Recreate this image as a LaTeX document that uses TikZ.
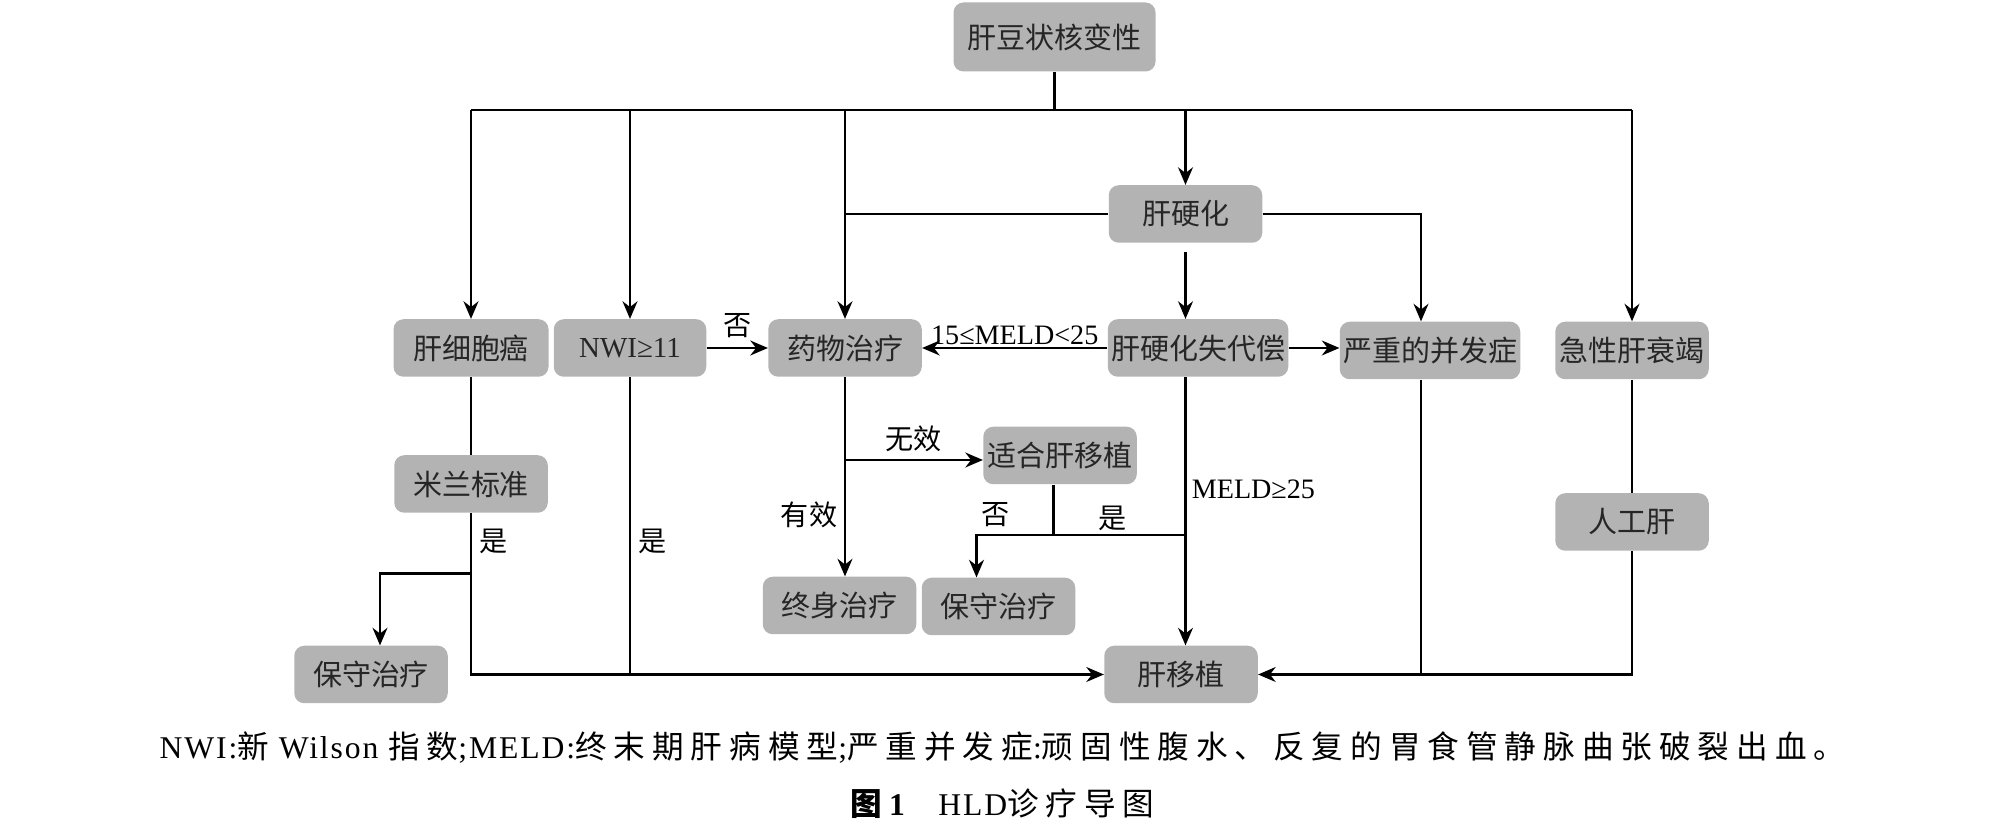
\documentclass[tikz,border=0pt]{standalone}
\usepackage{fontspec}
\setmainfont{Liberation Serif}
\newfontfamily\cjk{Noto Sans CJK SC}
\newfontfamily\capcjk[LetterSpace=22]{Noto Sans CJK SC}
\newfontfamily\caprm[LetterSpace=6]{Liberation Serif}
\usetikzlibrary{arrows.meta}
\definecolor{boxgray}{RGB}{179,179,179}

\begin{document}
\begin{tikzpicture}[
    box/.style={rectangle, rounded corners=0.2cm, fill=boxgray, text=black!85,
      minimum width=3.07cm, minimum height=1.15cm, inner sep=0pt,
      font=\fontsize{16.5}{18}\selectfont\cjk},
    line/.style={line width=1.2pt},
    arr/.style={line width=1.2pt, -{Stealth[length=10pt,width=8.5pt]}},
    lbl/.style={inner sep=1pt, font=\fontsize{16}{18}\selectfont\cjk},
    lat/.style={inner sep=1pt, font=\fontsize{16}{18}\selectfont\rmfamily}
  ]
    \useasboundingbox (0,0) rectangle (40.14,16.58);

    \node[box, minimum width=4.04cm, minimum height=1.38cm] (hld) at (21.09,15.84) {肝豆状核变性};
    \node[box] (lc) at (23.71,12.30) {肝硬化};

    \node[box, minimum width=3.10cm] (hcc) at (9.42,9.62) {肝细胞癌};
    \node[box, minimum width=3.05cm, font=\fontsize{16.5}{18}\selectfont\rmfamily] (nwi) at (12.60,9.62) {NWI≥11};
    \node[box] (drug) at (16.90,9.62) {药物治疗};
    \node[box, minimum width=3.61cm] (dlc) at (23.96,9.62) {肝硬化失代偿};
    \node[box, minimum width=3.61cm] (comp) at (28.60,9.57) {严重的并发症};
    \node[box] (alf) at (32.64,9.57) {急性肝衰竭};

    \node[box] (milan) at (9.42,6.90) {米兰标准};
    \node[box] (fit) at (21.20,7.47) {适合肝移植};
    \node[box] (art) at (32.64,6.14) {人工肝};
    \node[box] (life) at (16.79,4.47) {终身治疗};
    \node[box] (cons1) at (19.97,4.45) {保守治疗};
    \node[box] (cons2) at (7.42,3.09) {保守治疗};
    \node[box] (lt) at (23.62,3.09) {肝移植};

    \coordinate (trunk) at (21.09,14.38);
    \coordinate (tl) at (9.42,14.38);
    \coordinate (tr) at (32.64,14.38);
    \coordinate (cr) at (28.42,12.30);
    \coordinate (br) at (16.90,7.38);
    \coordinate (fj) at (21.07,5.88);
    \coordinate (fl) at (19.53,5.88);
    \coordinate (ml) at (9.42,5.11);
    \coordinate (mb) at (7.60,5.11);
    \coordinate (bl) at (9.42,3.09);
    \coordinate (bright) at (32.64,3.09);

    \draw[line] (hld) -- (trunk);
    \draw[line] (tl) -- (tr);
    \draw[arr] (tl) -- (hcc);
    \draw[arr] (nwi |- tl) -- (nwi);
    \draw[arr] (drug |- tl) -- (drug);
    \draw[arr] (lc |- tl) -- (lc);
    \draw[arr] (tr) -- (alf);

    \draw[line] (lc.west) -- (lc.west -| drug);
    \draw[arr] (lc.east) -- (cr) -- (cr |- comp.north);
    \draw[arr, shorten <=0.18cm] (lc) -- (lc |- dlc.north);

    \draw[arr] (nwi) -- (drug) node[lbl, midway, above=4pt] {否};
    \draw[arr] (dlc.west) -- (drug.east) node[lat, midway, above=0pt] {15≤MELD<25};
    \draw[arr] (dlc.east) -- (comp.west |- dlc.east);

    \draw[arr] (drug) -- (drug |- life.north);
    \node[lbl] (eff) at (16.18,6.29) {有效};
    \draw[arr] (br) -- (br -| fit.west) node[lbl, midway, above=3pt] {无效};

    \draw[line] (fit.south -| fj) -- (fj);
    \draw[arr] (fj) -- (fl) -- (fl |- cons1.north);
    \draw[line] (fj) -- (fj -| lc);
    \node[lbl] (no2) at (19.92,6.29) {否};
    \node[lbl] (yes3) at (22.25,6.21) {是};
    \draw[arr] (dlc.south -| lc) -- (lc |- lt.north) node[lat, pos=0.42, right=2pt] {MELD≥25};

    \draw[line] (hcc) -- (milan);
    \draw[arr] (milan) -- (bl) -- (lt);
    \draw[arr] (ml) -- (mb) -- (mb |- cons2.north);
    \node[lbl] (yes1) at (9.88,5.75) {是};
    \draw[line] (nwi) -- (nwi |- bl);
    \node[lbl] (yes2) at (13.06,5.75) {是};

    \draw[line] (comp.south -| cr) -- (cr |- lt);
    \draw[line] (alf) -- (art);
    \draw[arr] (art) -- (bright) -- (lt);

    \node[font=\fontsize{18}{20}\selectfont\caprm] (note) at (20.05,1.63)
      {NWI:{\capcjk 新} Wilson {\capcjk 指数};MELD:{\capcjk 终末期肝病模型};{\capcjk 严重并发症}:{\capcjk 顽固性腹水、反复的胃食管静脉曲张破裂出血。}};
    \node[font=\fontsize{18}{20}\selectfont\caprm] (title) at (20.05,0.50)
      {{\bfseries\capcjk 图}\textbf{1}\quad HLD{\capcjk 诊疗导图}};
\end{tikzpicture}
\end{document}
